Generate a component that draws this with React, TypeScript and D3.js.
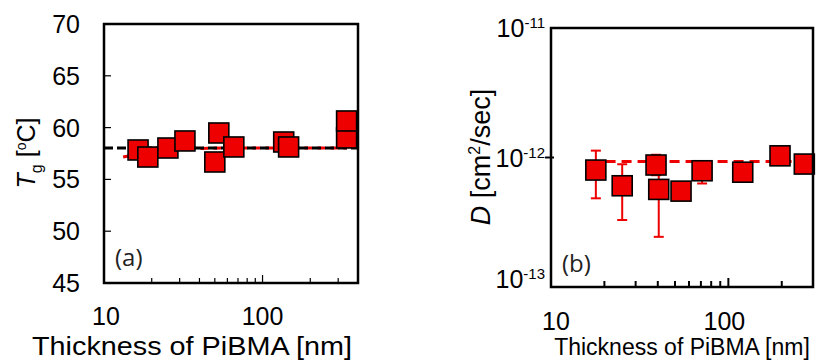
import React from "react";
import * as d3 from "d3";

// Panel (a): Tg vs thickness
const thicknessA = [16.4, 18.9, 25.3, 32.4, 50, 53, 65.9, 136, 146, 339, 339];
const tgA = [57.84, 57.16, 58.03, 58.71, 56.68, 59.48, 58.13, 58.61, 58.13, 59.0, 60.64];
const blackLineA = [[10, 58.03], [400, 58.03]];
const redLineA = [[13.2, 57.16], [20, 57.7], [30, 57.95], [60, 58.03], [340, 58.03]];
const yTicksA = [45, 50, 55, 60, 65, 70];
const xMinorA = [20, 30, 40, 50, 60, 70, 80, 90, 200, 300];

// Panel (b): D vs thickness
const thicknessB = [17.9, 25.2, 39.1, 40.5, 54.1, 71.1, 120.5, 195.5, 268];
const dB = [8.0e-13, 6.05e-13, 8.75e-13, 5.67e-13, 5.5e-13, 7.9e-13, 7.7e-13, 1.03e-12, 8.9e-13];
const errHiB = [1.13e-12, 8.87e-13, 1.05e-12, 7.5e-13, null, 9.0e-13, null, null, null];
const errLoB = [4.84e-13, 3.29e-13, 7.3e-13, 2.44e-13, null, 6.3e-13, null, null, null];
const redLineB = [[16.5, 9.3e-13], [300, 9.3e-13]];
const yTicksB = [-13, -12, -11];
const xMinorB = [20, 30, 40, 50, 60, 70, 80, 90, 200];

const xLabels = [10, 100];

const SANS = "'Liberation Sans', Arial, sans-serif";
const LABEL_FONT = "'Open Sans', 'Noto Sans', sans-serif";
const RED = "#ee0000";
const SQ = 20;

export default function App() {
  const xA = d3.scaleLog().domain([10, 400]).range([104, 358]);
  const yA = d3.scaleLinear().domain([45, 70]).range([283, 24]);
  const xB = d3.scaleLog().domain([10, 300]).range([551, 813]);
  const yB = d3.scaleLog().domain([1e-13, 1e-11]).range([287, 28]);

  const lineA = d3.line<number[]>().x((d) => xA(d[0])).y((d) => yA(d[1]));
  const lineB = d3.line<number[]>().x((d) => xB(d[0])).y((d) => yB(d[1]));

  return (
    <div style={{ position: "absolute", left: 0, top: 0 }}>
      <svg width={817} height={362} style={{ display: "block", background: "#fff" }}>
        {/* ---------- Panel (a) ---------- */}
        <g>
          <path d={lineA(redLineA as any) || ""} fill="none" stroke={RED} strokeWidth={3} strokeDasharray="8,5" />
          <path d={lineA(blackLineA as any) || ""} fill="none" stroke="#000" strokeWidth={3} strokeDasharray="9,4" />
          {thicknessA.map((t, i) => (
            <rect key={i} x={xA(t) - SQ / 2} y={yA(tgA[i]) - SQ / 2} width={SQ} height={SQ}
              fill={RED} stroke="#000" strokeWidth={1.6} />
          ))}
          <rect x={xA(10)} y={yA(70)} width={xA(400) - xA(10)} height={yA(45) - yA(70)}
            fill="none" stroke="#000" strokeWidth={2.5} />
          {yTicksA.map((v) => (
            <g key={v}>
              <line x1={xA(10)} x2={xA(10) + 7} y1={yA(v)} y2={yA(v)} stroke="#000" strokeWidth={1.2} />
              <text x={80} y={yA(v)} dy="0.36em" textAnchor="end" fontFamily={SANS} fontSize={25} fill="#000">{v}</text>
            </g>
          ))}
          {xMinorA.map((v) => (
            <line key={v} x1={xA(v)} x2={xA(v)} y1={yA(45)} y2={yA(45) - 5} stroke="#000" strokeWidth={1.2} />
          ))}
          <line x1={xA(100)} x2={xA(100)} y1={yA(45)} y2={yA(45) - 8} stroke="#000" strokeWidth={1.2} />
          {xLabels.map((v) => (
            <text key={v} x={xA(v) + (v === 10 ? 2 : 0)} y={325} textAnchor="middle" fontFamily={SANS} fontSize={25} fill="#000">{v}</text>
          ))}
          <text x={192} y={355} textAnchor="middle" fontFamily={SANS} fontSize={26} fill="#000"
            textLength={320} lengthAdjust="spacingAndGlyphs">Thickness of PiBMA [nm]</text>
          <text transform="translate(35,153) rotate(-90)" textAnchor="middle" fontFamily={SANS} fontSize={25} fill="#000">
            <tspan fontStyle="italic">T</tspan>
            <tspan fontSize={16} dy={7}>g</tspan>
            <tspan dy={-7}> [</tspan>
            <tspan fontSize={14} dy={-9}>o</tspan>
            <tspan dy={9}>C]</tspan>
          </text>
          <text x={115} y={266} fontFamily={LABEL_FONT} fontSize={24} fill="#222">(a)</text>
        </g>

        {/* ---------- Panel (b) ---------- */}
        <g>
          <path d={lineB(redLineB as any) || ""} fill="none" stroke={RED} strokeWidth={3} strokeDasharray="10,6" />
          {thicknessB.map((t, i) =>
            errHiB[i] != null ? (
              <g key={"e" + i} stroke={RED} strokeWidth={2}>
                <line x1={xB(t)} x2={xB(t)} y1={yB(errHiB[i] as number)} y2={yB(errLoB[i] as number)} />
                <line x1={xB(t) - 5} x2={xB(t) + 5} y1={yB(errHiB[i] as number)} y2={yB(errHiB[i] as number)} />
                <line x1={xB(t) - 5} x2={xB(t) + 5} y1={yB(errLoB[i] as number)} y2={yB(errLoB[i] as number)} />
              </g>
            ) : null
          )}
          {thicknessB.map((t, i) => (
            <rect key={i} x={xB(t) - SQ / 2} y={yB(dB[i]) - SQ / 2} width={SQ} height={SQ}
              fill={RED} stroke="#000" strokeWidth={1.6} />
          ))}
          <rect x={xB(10)} y={yB(1e-11)} width={xB(300) - xB(10)} height={yB(1e-13) - yB(1e-11)}
            fill="none" stroke="#000" strokeWidth={2.5} />
          <line x1={xB(10) - 6} x2={xB(10) + 3} y1={yB(1e-12)} y2={yB(1e-12)} stroke="#000" strokeWidth={2} />
          {yTicksB.map((e) => (
            <text key={e} x={545} y={yB(Math.pow(10, e)) + (e === -13 ? -8 : 0)} dy="0.36em" textAnchor="end"
              fontFamily={SANS} fontSize={25} fill="#000">
              10<tspan fontSize={15} dy={-9}>{"-" + Math.abs(e)}</tspan>
            </text>
          ))}
          {xMinorB.map((v) => (
            <line key={v} x1={xB(v)} x2={xB(v)} y1={yB(1e-13)} y2={yB(1e-13) - 6} stroke="#000" strokeWidth={2} />
          ))}
          <line x1={xB(100)} x2={xB(100)} y1={yB(1e-13)} y2={yB(1e-13) - 9} stroke="#000" strokeWidth={2} />
          {xLabels.map((v) => (
            <text key={v} x={xB(v) + (v === 10 ? 5 : -4)} y={330} textAnchor="middle" fontFamily={SANS} fontSize={25} fill="#000">{v}</text>
          ))}
          <text x={682} y={355} textAnchor="middle" fontFamily={SANS} fontSize={23} fill="#000">Thickness of PiBMA [nm]</text>
          <text transform="translate(490,157) rotate(-90)" textAnchor="middle" fontFamily={SANS} fontSize={27} fill="#000">
            <tspan fontStyle="italic">D</tspan>
            <tspan> [cm</tspan>
            <tspan fontSize={16} dy={-10}>2</tspan>
            <tspan dy={10}>/sec]</tspan>
          </text>
          <text x={562} y={272} fontFamily={LABEL_FONT} fontSize={24} fill="#222">(b)</text>
        </g>
      </svg>
    </div>
  );
}
